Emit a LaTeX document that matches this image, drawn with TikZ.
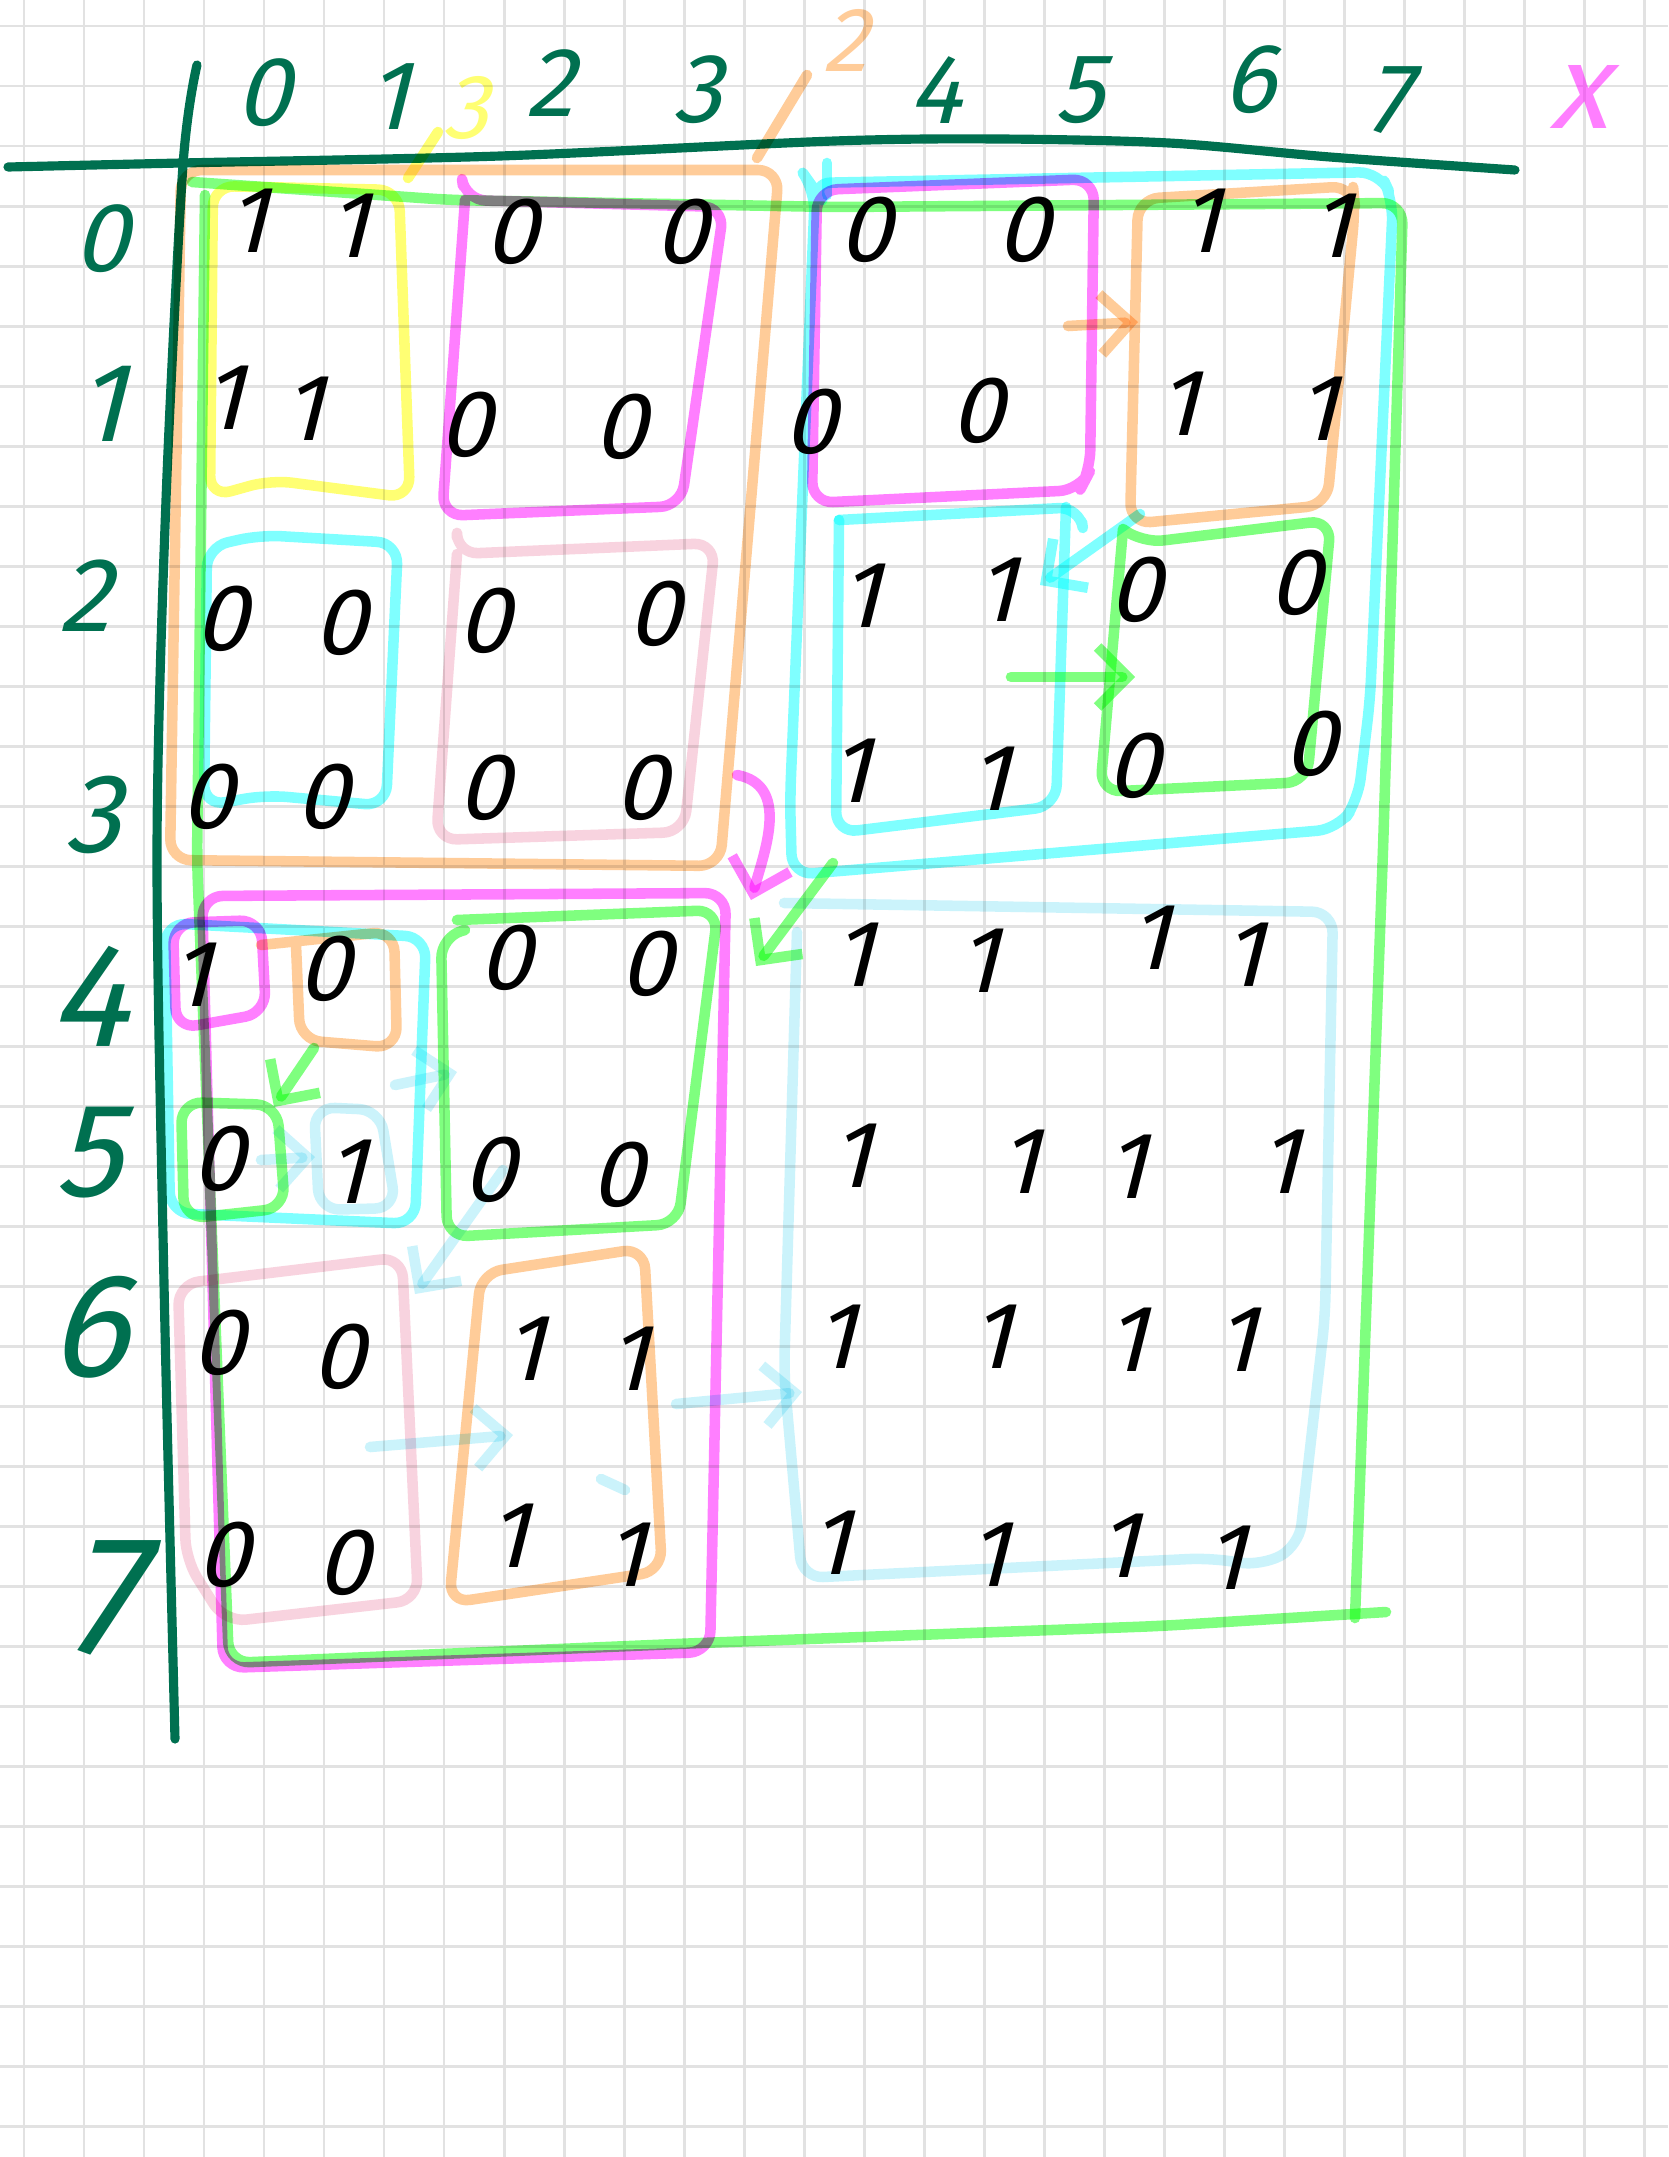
\documentclass[tikz,border=0pt]{standalone}
\usepackage{fontspec}
\setmainfont{Fira Sans}
\newfontfamily\handfont[FakeSlant=0.25]{Fira Sans}
\usetikzlibrary{arrows.meta}

\definecolor{penGreen}{RGB}{0,112,80}
\definecolor{gridGray}{RGB}{226,226,226}
\definecolor{hlOrange}{RGB}{255,128,0}
\definecolor{hlYellow}{RGB}{255,255,0}
\definecolor{hlMagenta}{RGB}{255,0,255}
\definecolor{hlGreen}{RGB}{0,255,0}
\definecolor{hlCyan}{RGB}{0,255,255}
\definecolor{hlPink}{RGB}{235,110,150}
\definecolor{hlSky}{RGB}{85,218,245}

\begin{document}
\begin{tikzpicture}[x=0.01cm, y=-0.01cm,
    gridline/.style={draw=gridGray, line width=0.85pt},
    axis/.style={draw=penGreen, line width=2.6pt, line cap=round, line join=round},
    axislabel/.style={text=penGreen, font=\handfont\fontsize{28}{30}\selectfont, inner sep=0pt},
    bit/.style={text=black, font=\handfont\fontsize{27}{30}\selectfont, inner sep=0pt},
    hilite/.style={line width=3pt, line cap=round, line join=round, rounded corners=6pt},
    orangepen/.style={hilite, draw=hlOrange, draw opacity=0.4},
    yellowpen/.style={hilite, draw=hlYellow, draw opacity=0.55},
    magentapen/.style={hilite, draw=hlMagenta, draw opacity=0.5},
    greenpen/.style={hilite, draw=hlGreen, draw opacity=0.5},
    cyanpen/.style={hilite, draw=hlCyan, draw opacity=0.5},
    pinkpen/.style={hilite, draw=hlPink, draw opacity=0.3},
    skypen/.style={hilite, draw=hlSky, draw opacity=0.3},
    penarrow/.style={-{Straight Barb[length=3mm, width=6mm]}}
]

% paper
\useasboundingbox (0,0) rectangle (1668,2157);
\fill[white] (0,0) rectangle (1668,2157);
\foreach \gx in {0,...,27}
    \draw[gridline] ({24+60*\gx},0) -- ({24+60*\gx},2157);
\foreach \gy in {0,...,35}
    \draw[gridline] (0,{26+60*\gy}) -- (1668,{26+60*\gy});

% axes
\draw[axis] plot[smooth] coordinates {(8,167) (181,163) (500,156) (834,141) (1000,139) (1169,143) (1330,157) (1515,170)};
\draw[axis] plot[smooth] coordinates {(197,65) (183,165) (166,500) (157,850) (164,1283) (175,1739)};

% column labels
\node[axislabel] (c0) at (263,93) {0};
\node[axislabel] (c1) at (388,97) {1};
\node[axislabel] (c2) at (550,83) {2};
\node[axislabel] (c3) at (697,90) {3};
\node[axislabel] (c4) at (935,90) {4};
\node[axislabel] (c5) at (1079,90) {5};
\node[axislabel] (c6) at (1249,80) {6};
\node[axislabel] (c7) at (1387,100) {7};
\node[axislabel, text=hlMagenta, text opacity=0.5, font=\handfont\fontsize{34}{36}\selectfont] (xname) at (1578,97) {x};

% row labels
\node[axislabel] (r0) at (101,239) {0};
\node[axislabel, font=\handfont\fontsize{32}{34}\selectfont] (r1) at (101,404) {1};
\node[axislabel, font=\handfont\fontsize{30}{32}\selectfont] (r2) at (85,596) {2};
\node[axislabel, font=\handfont\fontsize{32}{34}\selectfont] (r3) at (93,815) {3};
\node[axislabel, font=\handfont\fontsize{42}{44}\selectfont] (r4) at (88,996) {4};
\node[axislabel, font=\handfont\fontsize{38}{40}\selectfont] (r5) at (88,1153) {5};
\node[axislabel, font=\handfont\fontsize{42}{44}\selectfont] (r6) at (88,1327) {6};
\node[axislabel, font=\handfont\fontsize{48}{50}\selectfont] (r7) at (101,1598) {7};

% highlighter boxes
\begin{scope}[blend mode=multiply]
% top-left quadrant
\draw[orangepen] (181,170) -- (779,170) -- (720,866) -- (170,860) -- cycle;
\draw[yellowpen] (213,186) -- (399,190) -- (410,498) -- (271,480) -- (210,497) -- cycle;
\draw[magentapen] (463,186) -- (465,200) -- (724,207) -- (681,506) -- (442,516) -- (465,200);
\draw[cyanpen] (207,547) -- (260,535) -- (398,543) -- (386,806) -- (266,795) -- (204,806) -- cycle;
\draw[pinkpen] (457,538) -- (457,554) -- (715,543) -- (684,832) -- (436,840) -- (457,554);
% whole matrix
\draw[greenpen] (192,182) -- (450,200) -- (834,207) -- (1403,203) -- (1383,850) -- (1355,1618);
\draw[greenpen] (1386,1612) -- (1160,1626) -- (700,1643) -- (229,1663) -- (197,860) -- (205,195);
% top-right quadrant
\draw[cyanpen] (827,163) -- (827,195);
\draw[cyanpen] (810,183) -- (1380,172) -- (1393,200) -- (1370,700) -- (1358,800) -- (1338,829) -- (792,875) -- (790,800) -- (815,190) -- cycle;
\draw[magentapen] (817,190) -- (1094,179) -- (1090,471) -- (1080,490) -- (812,503) -- cycle;
\draw[orangepen] (1138,199) -- (1353,186) -- (1355,208) -- (1327,505) -- (1130,524) -- cycle;
\draw[cyanpen] (839,520) -- (1080,507) -- (1082,522);
\draw[cyanpen] (1066,507) -- (1056,806) -- (836,833) -- (839,520);
\draw[greenpen] (1123,529) -- (1142,543) -- (1331,520) -- (1307,782) -- (1100,792) -- (1123,529);
% bottom-left quadrant
\draw[magentapen] (202,896) -- (726,893) -- (710,1652) -- (223,1668) -- cycle;
\draw[cyanpen] (165,923) -- (426,937) -- (415,1224) -- (170,1213) -- cycle;
\draw[magentapen] (173,923) -- (261,920) -- (266,1013) -- (176,1029) -- cycle;
\draw[orangepen] (261,945) -- (394,931) -- (397,1048) -- (300,1040) -- (296,945);
\draw[greenpen] (181,1102) -- (277,1105) -- (285,1208) -- (184,1219) -- cycle;
\draw[skypen] (314,1107) -- (380,1110) -- (396,1208) -- (319,1210) -- cycle;
\draw[greenpen] (457,920) -- (718,910) -- (678,1224) -- (447,1237) -- (441,937) -- (465,930);
\draw[pinkpen] (178,1284) -- (402,1257) -- (418,1600) -- (225,1622) -- (186,1560) -- cycle;
\draw[orangepen] (481,1273) -- (644,1248) -- (662,1571) -- (449,1603) -- cycle;
% bottom-right quadrant
\draw[skypen] (784,903) -- (1333,912) -- (1325,1317) -- (1299,1546) -- (1261,1566) -- (1210,1558) -- (802,1578) -- (784,1374) -- (797,932);

% level marks
\draw[yellowpen] (408,178) -- (438,132);
\node[text=hlYellow, text opacity=0.55, font=\handfont\fontsize{26}{28}\selectfont, inner sep=0pt] (lvlthree) at (465,108) {3};
\draw[orangepen] (757,158) -- (807,75);
\node[text=hlOrange, text opacity=0.4, font=\handfont\fontsize{26}{28}\selectfont, inner sep=0pt] (lvltwo) at (845,40) {2};

% arrows between boxes
\draw[orangepen, penarrow] (1068,326) -- (1138,322);
\draw[cyanpen, penarrow] (1140,514) -- (1040,585);
\draw[greenpen, penarrow] (1011,677) -- (1135,677);
\draw[magentapen, penarrow] (737,775) .. controls (790,785) and (765,850) .. (751,900);
\draw[greenpen, penarrow] (833,863) -- (756,966);
\draw[greenpen, penarrow] (314,1048) -- (274,1107);
\draw[skypen, penarrow] (261,1160) -- (315,1157);
\draw[skypen, penarrow] (395,1085) -- (457,1072);
\draw[skypen, penarrow] (503,1170) -- (415,1294);
\draw[skypen, penarrow] (370,1447) -- (513,1435);
\draw[skypen, penarrow] (676,1404) -- (802,1392);
\draw[skypen] (601,1479) -- (625,1490);
\end{scope}

% matrix entries
\foreach \v/\px/\py [count=\k] in {
    1/247/221, 1/348/226, 0/511/232, 0/681/232, 0/865/230, 0/1023/230, 1/1200/221, 1/1331/226,
    1/223/398, 1/303/409, 0/465/425, 0/620/427, 0/810/422, 0/977/411, 1/1178/404, 1/1317/409,
    0/221/619, 0/340/623, 0/484/621, 0/654/614, 1/860/596, 1/996/590, 0/1135/590, 0/1295/583,
    0/207/797, 0/322/797, 0/484/788, 0/641/788, 1/850/771, 1/989/779, 0/1133/766, 0/1310/744,
    1/191/975, 0/324/969, 0/505/958, 0/646/964, 1/853/955, 1/978/961, 1/1149/938, 1/1243/955,
    0/218/1159, 1/346/1172, 0/489/1170, 0/617/1175, 1/851/1156, 1/1019/1162, 1/1126/1167, 1/1279/1162,
    0/218/1343, 0/338/1357, 1/524/1349, 1/628/1359, 1/835/1337, 1/991/1337, 1/1126/1340, 1/1236/1340,
    0/223/1555, 0/343/1563, 1/508/1536, 1/625/1555, 1/830/1543, 1/988/1555, 1/1118/1546, 1/1225/1558}
    \node[bit] (b\k) at (\px,\py) {\v};

\end{tikzpicture}
\end{document}
